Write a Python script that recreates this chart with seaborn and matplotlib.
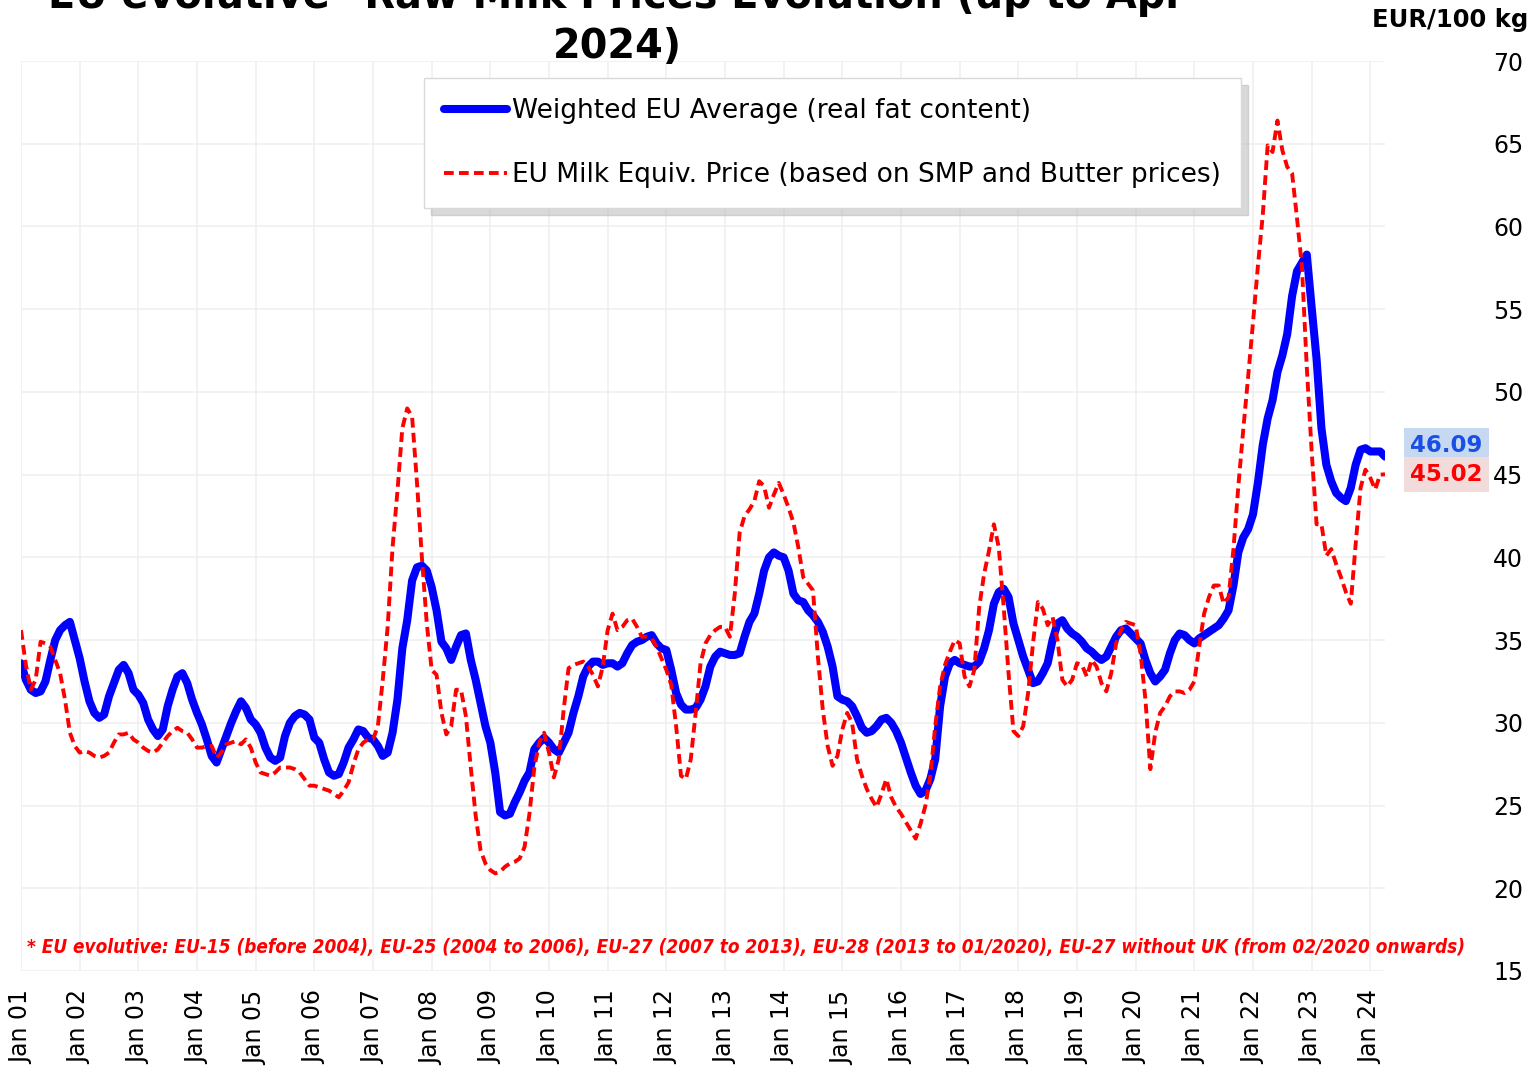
import matplotlib

matplotlib.use("Agg")
import matplotlib.pyplot as plt
import matplotlib.transforms as mtransforms
import pandas as pd
import seaborn as sns

# monthly prices, Jan 2001 .. Apr 2024 (EUR/100 kg)
weighted_eu_avg = [
    33.6, 32.6, 32.0, 31.8, 31.9, 32.5, 33.8, 35.0, 35.6, 35.9, 36.1, 35.0,  # 2001
    33.9, 32.5, 31.3, 30.6, 30.3, 30.5, 31.6, 32.4, 33.2, 33.5, 33.0, 32.0,  # 2002
    31.7, 31.2, 30.2, 29.6, 29.2, 29.6, 31.0, 32.0, 32.8, 33.0, 32.4, 31.4,  # 2003
    30.6, 29.9, 29.0, 28.0, 27.6, 28.4, 29.2, 30.0, 30.7, 31.3, 30.9, 30.2,  # 2004
    29.9, 29.4, 28.5, 27.9, 27.7, 27.9, 29.2, 30.0, 30.4, 30.6, 30.5, 30.2,  # 2005
    29.1, 28.8, 27.8, 27.0, 26.8, 26.9, 27.6, 28.5, 29.0, 29.6, 29.5, 29.1,  # 2006
    29.0, 28.6, 28.0, 28.2, 29.4, 31.4, 34.5, 36.2, 38.6, 39.4, 39.5, 39.2,  # 2007
    38.2, 36.8, 34.9, 34.5, 33.8, 34.6, 35.3, 35.4, 33.8, 32.6, 31.2, 29.8,  # 2008
    28.8, 27.0, 24.6, 24.4, 24.5, 25.2, 25.8, 26.5, 27.0, 28.4, 28.8, 29.1,  # 2009
    28.8, 28.4, 28.2, 28.8, 29.4, 30.6, 31.6, 32.8, 33.4, 33.7, 33.7, 33.5,  # 2010
    33.6, 33.6, 33.4, 33.6, 34.2, 34.7, 34.9, 35.0, 35.2, 35.3, 34.8, 34.5,  # 2011
    34.4, 33.2, 31.8, 31.1, 30.8, 30.8, 30.9, 31.4, 32.2, 33.4, 34.0, 34.3,  # 2012
    34.2, 34.1, 34.1, 34.2, 35.2, 36.1, 36.6, 37.8, 39.2, 40.0, 40.3, 40.1,  # 2013
    40.0, 39.2, 37.8, 37.4, 37.3, 36.8, 36.5, 36.1, 35.5, 34.6, 33.4, 31.6,  # 2014
    31.4, 31.3, 31.0, 30.4, 29.7, 29.4, 29.5, 29.8, 30.2, 30.3, 30.0, 29.5,  # 2015
    28.8, 27.9, 27.0, 26.2, 25.7, 25.9, 26.6, 27.8, 31.0, 32.8, 33.6, 33.8,  # 2016
    33.6, 33.5, 33.4, 33.4, 33.7, 34.5, 35.6, 37.2, 37.9, 38.1, 37.6, 36.0,  # 2017
    35.0, 34.0, 33.2, 32.4, 32.5, 33.0, 33.6, 35.0, 36.0, 36.2, 35.7, 35.4,  # 2018
    35.2, 34.9, 34.5, 34.3, 34.0, 33.8, 34.0, 34.6, 35.2, 35.6, 35.7, 35.4,  # 2019
    35.1, 34.8, 33.8, 33.0, 32.5, 32.8, 33.2, 34.2, 35.0, 35.4, 35.3, 35.0,  # 2020
    34.8, 35.1, 35.3, 35.5, 35.7, 35.9, 36.3, 36.8, 38.3, 40.3, 41.2, 41.7,  # 2021
    42.6, 44.5, 46.8, 48.4, 49.5, 51.2, 52.2, 53.5, 55.8, 57.3, 57.8, 58.3,  # 2022
    55.1, 52.0, 47.8, 45.6, 44.6, 43.9, 43.6, 43.4, 44.2, 45.6, 46.5, 46.6,  # 2023
    46.4, 46.4, 46.4, 46.09,                                                 # 2024
]

milk_equiv_price = [
    35.6, 33.5, 32.0, 32.6, 34.9, 34.8, 34.6, 33.8, 33.0, 31.4, 29.4, 28.6,  # 2001
    28.2, 28.3, 28.2, 28.0, 27.9, 28.0, 28.2, 28.8, 29.3, 29.3, 29.4, 29.0,  # 2002
    28.8, 28.5, 28.3, 28.2, 28.4, 28.8, 29.2, 29.5, 29.7, 29.5, 29.4, 29.0,  # 2003
    28.5, 28.5, 28.6, 28.6, 27.9, 28.2, 28.7, 28.8, 28.9, 28.7, 29.0, 28.5,  # 2004
    27.6, 27.0, 26.9, 26.8, 27.0, 27.3, 27.3, 27.3, 27.2, 27.0, 26.6, 26.2,  # 2005
    26.2, 26.1, 26.0, 25.9, 25.7, 25.5, 25.9, 26.4, 27.5, 28.4, 28.8, 29.0,  # 2006
    29.0, 29.8, 32.6, 35.8, 40.6, 44.0, 47.8, 49.0, 48.5, 44.5, 40.0, 36.0,  # 2007
    33.2, 32.9, 30.6, 29.3, 29.8, 32.0, 32.0, 30.4, 27.3, 24.4, 22.3, 21.5,  # 2008
    21.1, 20.9, 21.0, 21.3, 21.5, 21.6, 21.8, 22.5, 24.5, 27.3, 28.8, 29.4,  # 2009
    28.2, 26.7, 27.8, 30.8, 33.3, 33.5, 33.6, 33.7, 33.4, 32.9, 32.2, 33.4,  # 2010
    35.6, 36.6, 35.6, 35.8, 36.2, 36.3, 35.8, 35.2, 35.2, 35.1, 34.6, 33.9,  # 2011
    33.2, 32.3, 29.8, 26.8, 26.6, 27.8, 30.6, 33.6, 34.8, 35.3, 35.6, 35.8,  # 2012
    35.8, 35.2, 37.8, 41.5, 42.5, 42.9, 43.4, 44.6, 44.3, 43.0, 43.8, 44.5,  # 2013
    43.8, 43.0, 42.1, 40.6, 38.8, 38.4, 38.0, 34.0, 30.8, 28.6, 27.4, 28.0,  # 2014
    29.6, 30.6, 30.0, 27.8, 26.8, 26.0, 25.4, 24.9, 25.7, 26.6, 25.5, 24.9,  # 2015
    24.5, 24.0, 23.5, 23.0, 23.9, 25.0, 26.8, 29.8, 32.2, 33.5, 34.3, 35.0,  # 2016
    34.8, 32.8, 32.2, 33.2, 37.0, 39.0, 40.4, 42.0, 40.6, 37.0, 33.0, 29.5,  # 2017
    29.2, 29.8, 31.8, 34.8, 37.3, 36.9, 35.9, 36.4, 35.0, 32.6, 32.2, 32.6,  # 2018
    33.6, 33.5, 32.8, 33.8, 33.4, 32.4, 31.9, 33.0, 34.8, 35.6, 36.1, 36.0,  # 2019
    35.9, 34.2, 31.4, 27.2, 29.4, 30.6, 31.0, 31.6, 31.9, 31.9, 31.8, 32.0,  # 2020
    32.5, 34.6, 36.6, 37.6, 38.3, 38.3, 37.2, 37.6, 40.5, 44.3, 47.7, 50.9,  # 2021
    54.2, 57.6, 60.7, 64.9, 64.5, 66.4, 64.6, 63.6, 63.2, 60.5, 57.6, 51.5,  # 2022
    46.4, 42.0, 42.0, 40.1, 40.5, 39.6, 38.8, 37.9, 37.2, 40.8, 44.2, 45.3,  # 2023
    44.8, 44.1, 45.0, 45.02,                                                 # 2024
]

tick_labels = [
    "Jan 01", "Jan 02", "Jan 03", "Jan 04", "Jan 05", "Jan 06", "Jan 07", "Jan 08",
    "Jan 09", "Jan 10", "Jan 11", "Jan 12", "Jan 13", "Jan 14", "Jan 15", "Jan 16",
    "Jan 17", "Jan 18", "Jan 19", "Jan 20", "Jan 21", "Jan 22", "Jan 23", "Jan 24",
]
y_ticks = [15, 20, 25, 30, 35, 40, 45, 50, 55, 60, 65, 70]

series_names = [
    "Weighted EU Average (real fat content)",
    "EU Milk Equiv. Price (based on SMP and Butter prices)",
]
footnote = ("* EU evolutive: EU-15 (before 2004), EU-25 (2004 to 2006), EU-27 (2007 to 2013), "
            "EU-28 (2013 to 01/2020), EU-27 without UK (from 02/2020 onwards)")


def main():
    sns.set_style("white")
    plt.rcParams["font.family"] = ["DejaVu Sans"]
    plt.rcParams["text.color"] = "black"
    plt.rcParams["xtick.color"] = "black"
    plt.rcParams["ytick.color"] = "black"

    n = len(weighted_eu_avg)
    df = pd.DataFrame({
        "month": list(range(n)),
        "avg": weighted_eu_avg,
        "equiv": milk_equiv_price,
    })

    W, H = 1540, 1069
    fig = plt.figure(figsize=(W / 100, H / 100), dpi=100)
    ax = fig.add_axes([21 / W, 1 - 971 / H, 1364 / W, 910 / H])

    sns.lineplot(data=df, x="month", y="avg", ax=ax, color="#0000ff", linewidth=5.8,
                 label=series_names[0], errorbar=None,
                 solid_capstyle="round", solid_joinstyle="round")
    sns.lineplot(data=df, x="month", y="equiv", ax=ax, color="#ff0000", linewidth=2.8,
                 linestyle=(0, (2.5, 1.35)), label=series_names[1], errorbar=None)

    ax.set_xlim(0, n - 1)
    ax.set_ylim(15, 70)
    ax.set_xticks(list(range(0, n, 12)))
    ax.set_xticklabels(tick_labels, rotation=90, fontsize=17)
    ax.set_yticks(y_ticks)
    ax.yaxis.tick_right()
    ax.tick_params(axis="y", length=0, pad=78, labelsize=17)
    ax.tick_params(axis="x", length=0, pad=14)
    ax.set_xlabel("")
    ax.set_ylabel("")
    ax.grid(True, color="#efefef", linewidth=1.1)
    for sp in ax.spines.values():
        sp.set_visible(False)

    leg = ax.legend(loc="upper left", bbox_to_anchor=(424 / W, 1 - 78 / H),
                    bbox_transform=fig.transFigure, fontsize=19, frameon=True,
                    fancybox=False, shadow={"ox": 5, "oy": -5, "color": "#b4b4b4"},
                    handlelength=2.4, handletextpad=0.2, labelspacing=1.45,
                    borderpad=0.75, borderaxespad=0)
    leg.get_frame().set_edgecolor("#d9d9d9")
    leg.get_frame().set_linewidth(1)

    # last-value labels next to the axis
    trans = mtransforms.blended_transform_factory(ax.transAxes, ax.transData)
    ax.text(1.045, weighted_eu_avg[-1], f"{weighted_eu_avg[-1]:.2f}", transform=trans,
            ha="center", va="bottom", fontsize=16.5, fontweight="bold", color="#1a4fe6",
            clip_on=False, bbox=dict(boxstyle="square,pad=0.26", fc="#c6d9f1", ec="none"))
    ax.text(1.045, milk_equiv_price[-1], f"{milk_equiv_price[-1]:.2f}", transform=trans,
            ha="center", va="center", fontsize=16.5, fontweight="bold", color="#ff0000",
            clip_on=False, bbox=dict(boxstyle="square,pad=0.26", fc="#f2dcdb", ec="none"))

    fig.text(617 / W, 1 - 8 / H, "EU evolutive* Raw Milk Prices Evolution (up to Apr",
             ha="center", va="baseline", fontsize=28.7, fontweight="bold")
    fig.text(617 / W, 1 - 58 / H, "2024)", ha="center", va="baseline",
             fontsize=28.7, fontweight="bold")
    fig.text(1528 / W, 1 - 27 / H, "EUR/100 kg", ha="right", va="baseline",
             fontsize=17.5, fontweight="bold")

    note = fig.text(27 / W, 1 - 947 / H, footnote, ha="left", va="center", fontsize=15.5,
                    fontweight="bold", style="italic", color="#ff0000",
                    fontstretch="condensed",
                    family=["Liberation Sans Narrow", "DejaVu Sans Condensed", "DejaVu Sans"])
    # squeeze the footnote into the width it takes in the original
    fig.canvas.draw()
    width = note.get_window_extent().width
    target = 1435
    if width > target:
        note.set_fontsize(15.5 * target / width)

    fig.savefig("out.png", dpi=100)
    plt.close(fig)


if __name__ == "__main__":
    main()
